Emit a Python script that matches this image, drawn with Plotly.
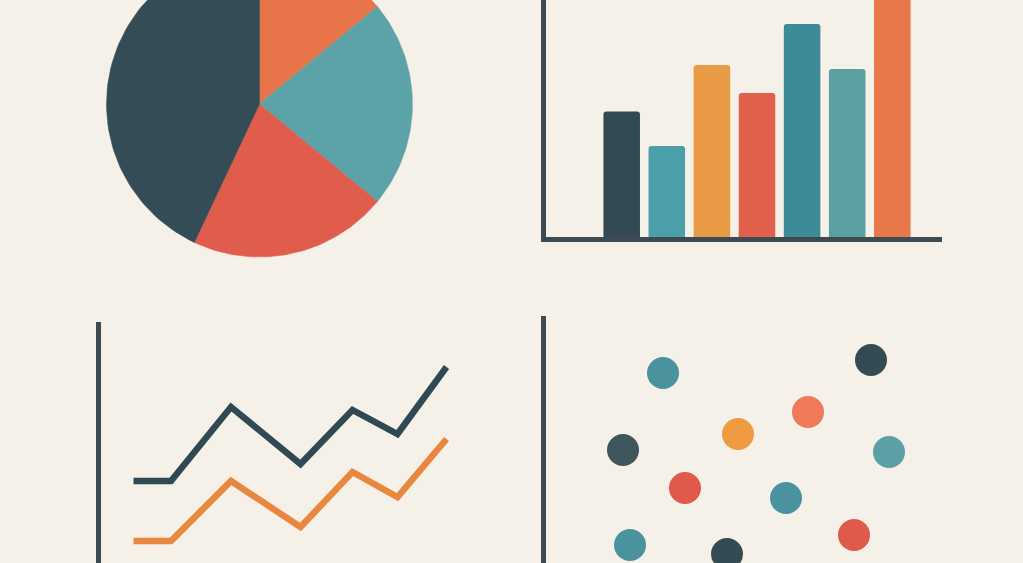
import numpy as np
import plotly.graph_objects as go

W, H = 1023, 563
BG = "#F5F1E8"
AXIS = "#3D4A4F"

# pie (top left)
pie_values = [14, 22, 21, 43]
pie_colors = ["#E8744A", "#5BA3A6", "#E05D4E", "#344C55"]

# bars (top right)
bar_labels = ["A", "B", "C", "D", "E", "F", "G"]
bar_values = [53, 38.4, 72.6, 60.8, 89.9, 70.9, 105]
bar_colors = ["#344A53", "#4A9FA8", "#E99A45", "#E0604C", "#3D8A98", "#5C9FA3", "#E8774A"]

# lines (bottom left)
line_x = [0, 0.75, 1.95, 3.34, 4.38, 5.28, 6.26]
line_dark = [8.2, 8.2, 15.6, 9.9, 15.3, 12.9, 19.6]
line_orange = [2.2, 2.2, 8.2, 3.6, 9.1, 6.6, 12.4]

# dots (bottom right)
dot_x = [12.0, 32.8, 26.5, 19.5, 8.0, 34.6, 14.2, 24.3, 31.1, 8.7, 18.4]
dot_y = [19.0, 20.3, 15.1, 12.9, 11.3, 11.1, 7.5, 6.5, 2.8, 1.8, 0.9]
dot_colors = ["#4A929E", "#344B53", "#EE7A5A", "#EE9A40", "#3F565D", "#5AA0A6",
              "#E05A4B", "#4A929E", "#E05A4B", "#4A929E", "#344B53"]


def px(v, total):
    return v / total


fig = go.Figure()

# pie wedges drawn on a cartesian axis so the top can run off the page
start = 0.0
total = sum(pie_values)
for val, col in zip(pie_values, pie_colors):
    end = start + val / total * 2 * np.pi
    t = np.linspace(start, end, 80)
    xs = np.concatenate([[0], np.sin(t), [0]])
    ys = np.concatenate([[0], np.cos(t), [0]])
    fig.add_trace(go.Scatter(x=xs, y=ys, mode="lines", fill="toself", fillcolor=col,
                             line=dict(color=col, width=0.5), hoverinfo="skip",
                             xaxis="x", yaxis="y"))
    start = end

fig.add_trace(go.Bar(x=list(range(len(bar_values))), y=bar_values, marker_color=bar_colors,
                     marker_cornerradius=3, marker_line_width=0, width=0.81,
                     xaxis="x2", yaxis="y2", hovertext=bar_labels))

fig.add_trace(go.Scatter(x=line_x, y=line_dark, mode="lines",
                         line=dict(color="#2F4A53", width=6.5), xaxis="x3", yaxis="y3"))
fig.add_trace(go.Scatter(x=line_x, y=line_orange, mode="lines",
                         line=dict(color="#E8873D", width=6.5), xaxis="x3", yaxis="y3"))

fig.add_trace(go.Scatter(x=dot_x, y=dot_y, mode="markers",
                         marker=dict(size=32, color=dot_colors, line=dict(width=0)),
                         xaxis="x4", yaxis="y4"))

hidden = dict(showgrid=False, zeroline=False, showticklabels=False, ticks="", fixedrange=True)
axline = dict(showline=True, linecolor=AXIS, linewidth=5)

# pie axes: 153 px radius, centre at (259.5, 104)
r = 153.0
fig.update_layout(
    xaxis=dict(domain=[0, px(511.5, W)], range=[-259.5 / r, 252 / r], **hidden),
    yaxis=dict(domain=[0.5, 1], range=[-(281.5 - 104) / r, 104 / r], **hidden),
    xaxis2=dict(domain=[px(546, W), px(942, W)], range=[(546 - 621.7) / 45.1, (942 - 621.7) / 45.1],
                **hidden, **axline),
    yaxis2=dict(domain=[1 - 237 / H, 1], range=[0, 100], **hidden, **axline),
    xaxis3=dict(domain=[px(101, W), px(480, W)], range=[(101 - 133.5) / 50, (480 - 133.5) / 50],
                **hidden, **axline),
    yaxis3=dict(domain=[0, 241 / H], range=[0, 24.1], **hidden, **axline),
    xaxis4=dict(domain=[px(546, W), px(1013, W)], range=[0.3, 47], **hidden, **axline),
    yaxis4=dict(domain=[0, 247 / H], range=[0, 24.7], **hidden, **axline),
)
fig.update_layout(
    xaxis3_showline=False, xaxis4_showline=False,
    yaxis3_anchor="x3", xaxis3_anchor="y3", yaxis2_anchor="x2", xaxis2_anchor="y2",
    yaxis4_anchor="x4", xaxis4_anchor="y4",
    width=W, height=H, margin=dict(l=0, r=0, t=0, b=0),
    paper_bgcolor=BG, plot_bgcolor=BG, showlegend=False,
)

# drop the browser's default 8px page margin so the figure fills the window
fig.write_html("out.html", config={"displayModeBar": False},
               post_script="document.body.style.margin='0';")
